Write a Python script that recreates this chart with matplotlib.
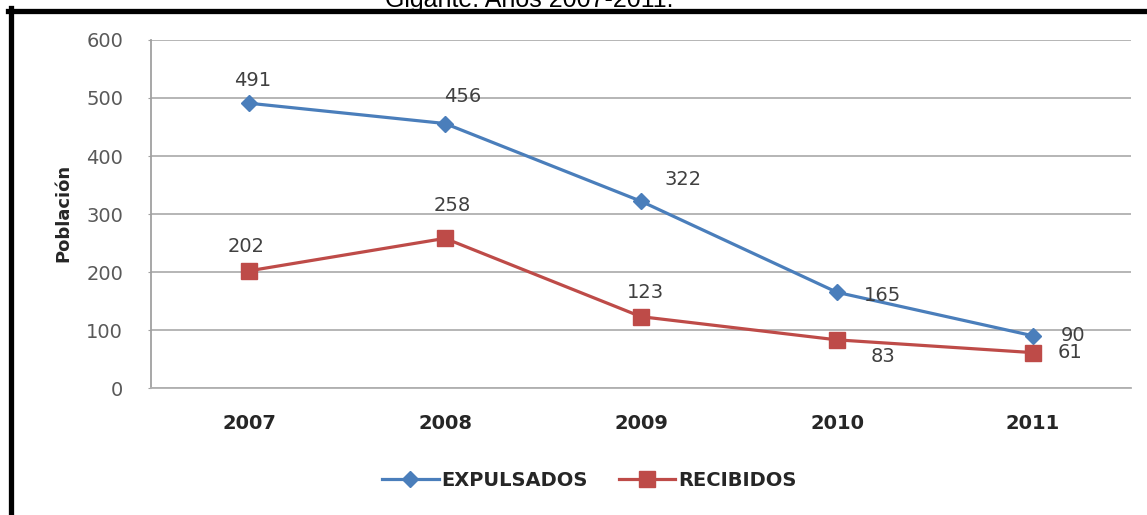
import matplotlib.pyplot as plt
from matplotlib.lines import Line2D

# datos de poblacion por año
anios = ["2007", "2008", "2009", "2010", "2011"]
expulsados = [491, 456, 322, 165, 90]
recibidos = [202, 258, 123, 83, 61]

# desplazamiento de las etiquetas (px) respecto a cada punto
desp_exp = [(4, 23), (18, 27), (42, 22), (46, -3), (40, 0)]
desp_rec = [(-3, 24), (7, 33), (4, 24), (46, -17), (37, 0)]

W, H = 1147, 515
fig = plt.figure(figsize=(W / 100, H / 100), dpi=100)
fig.patch.set_facecolor("white")

ax = fig.add_axes([151 / W, 127 / H, 980 / W, 348 / H])
x = list(range(len(anios)))

azul = "#4a7ebb"
rojo = "#be4b48"

ax.plot(x, expulsados, color=azul, lw=2.3, marker="D", ms=8.5,
        label="EXPULSADOS", zorder=3)
ax.plot(x, recibidos, color=rojo, lw=2.3, marker="s", ms=12,
        label="RECIBIDOS", zorder=3)

px = 0.72  # px -> puntos
for serie, desp in ((expulsados, desp_exp), (recibidos, desp_rec)):
    for xi, v, (dx, dy) in zip(x, serie, desp):
        ax.annotate(str(v), (xi, v), xytext=(dx * px, dy * px),
                    textcoords="offset points", ha="center", va="center",
                    fontsize=14, color="#404040", zorder=4)

ax.set_xlim(-0.5, 4.5)
ax.set_ylim(0, 600)
ax.set_yticks(range(0, 601, 100))
ax.set_xticks(x)
ax.set_xticklabels(anios, fontsize=14, fontweight="bold", color="#262626")
ax.tick_params(axis="x", length=0, pad=19)
ax.tick_params(axis="y", length=2, pad=18, labelsize=14,
               labelcolor="#595959", color="#a0a0a0")

ax.grid(axis="y", color="#b0b0b0", lw=1.3)
ax.set_axisbelow(True)
for s in ("top", "right"):
    ax.spines[s].set_visible(False)
ax.spines["left"].set_color("#a0a0a0")
ax.spines["bottom"].set_color("#b0b0b0")
ax.spines["left"].set_linewidth(1.3)
ax.spines["bottom"].set_linewidth(1.3)

fig.text(63 / W, 1 - 213 / H, "Población", rotation=90, ha="center",
         va="center", fontsize=13, fontweight="bold", color="#262626")

fig.legend(loc="center", bbox_to_anchor=(589.5 / W, 1 - 480 / H), ncol=2,
           frameon=False, handlelength=2.9, handletextpad=0.15,
           columnspacing=1.6, prop={"size": 14, "weight": "bold"},
           labelcolor="#262626")

# titulo cortado arriba
fig.text(529.5 / W, 1 - 7 / H, "Gigante. Años 2007-2011.", ha="center",
         va="baseline", fontsize=18, family="Liberation Sans", zorder=1)

# marco negro
fig.add_artist(Line2D([10.5 / W, 10.5 / W], [0, 1 - 8 / H], color="black",
                      lw=3.8, zorder=5))
fig.add_artist(Line2D([8 / W, 1], [1 - 10.5 / H, 1 - 10.5 / H],
                      color="black", lw=3.8, zorder=5))

fig.savefig("out.png", dpi=100)
